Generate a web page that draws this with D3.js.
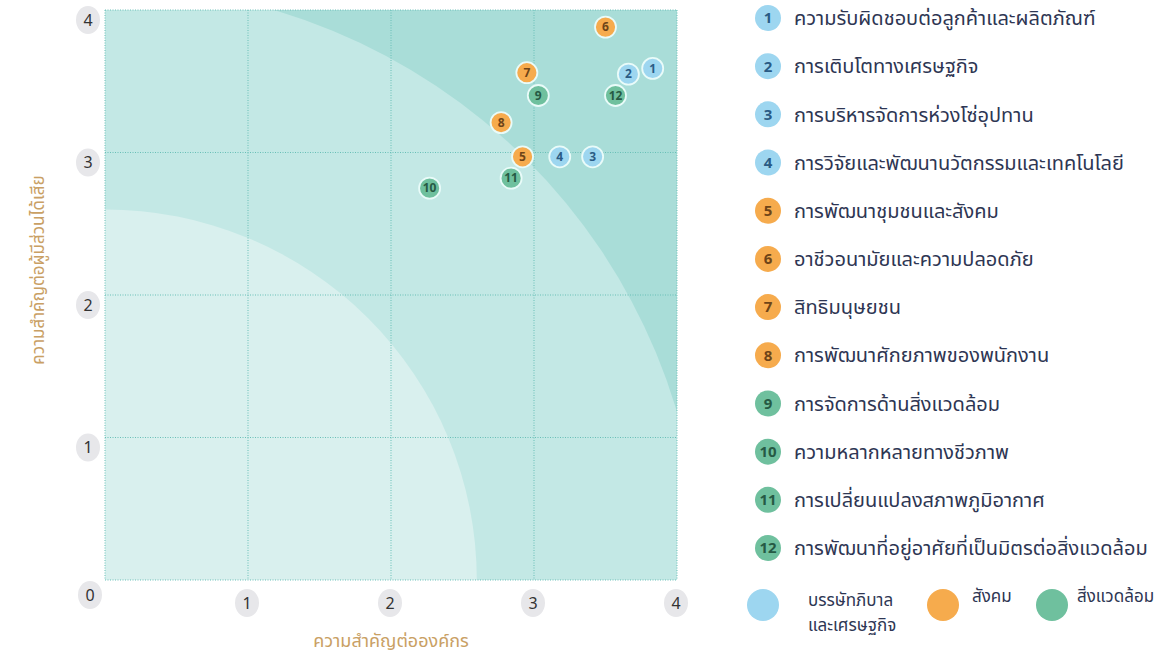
<!DOCTYPE html>
<html>
<head>
<meta charset="utf-8">
<script src="https://cdn.jsdelivr.net/npm/d3@7"></script>
<style>
  html, body { margin: 0; padding: 0; background: #fff; }
  svg { display: block; font-family: "Noto Sans Thai", "Noto Sans", "DejaVu Sans", sans-serif; }
</style>
</head>
<body>
<svg id="chart"></svg>
<script>
// topics, numbered 1..12
const topicIds = [1, 2, 3, 4, 5, 6, 7, 8, 9, 10, 11, 12];
const topicNames = [
  'ความรับผิดชอบต่อลูกค้าและผลิตภัณฑ์',
  'การเติบโตทางเศรษฐกิจ',
  'การบริหารจัดการห่วงโซ่อุปทาน',
  'การวิจัยและพัฒนานวัตกรรมและเทคโนโลยี',
  'การพัฒนาชุมชนและสังคม',
  'อาชีวอนามัยและความปลอดภัย',
  'สิทธิมนุษยชน',
  'การพัฒนาศักยภาพของพนักงาน',
  'การจัดการด้านสิ่งแวดล้อม',
  'ความหลากหลายทางชีวภาพ',
  'การเปลี่ยนแปลงสภาพภูมิอากาศ',
  'การพัฒนาที่อยู่อาศัยที่เป็นมิตรต่อสิ่งแวดล้อม'
];
const topicGroup = ['gov', 'gov', 'gov', 'gov', 'soc', 'soc', 'soc', 'soc', 'env', 'env', 'env', 'env'];
// x = importance to organisation, y = importance to stakeholders
const orgImportance         = [3.83, 3.66, 3.41, 3.18, 2.92, 3.50, 2.95, 2.77, 3.03, 2.27, 2.84, 3.57];
const stakeholderImportance = [3.59, 3.55, 2.97, 2.97, 2.97, 3.88, 3.56, 3.21, 3.40, 2.75, 2.82, 3.40];

const groupKeys   = ['gov', 'soc', 'env'];
const groupLabels = [['บรรษัทภิบาล', 'และเศรษฐกิจ'], ['สังคม'], ['สิ่งแวดล้อม']];

const axisTicks = [0, 1, 2, 3, 4];
const xTitle = 'ความสำคัญต่อองค์กร';
const yTitle = 'ความสำคัญต่อผู้มีส่วนได้เสีย';

// background bands (radius from origin, data units)
const bandRadii = [4.17, 2.6];

const fillColor = { gov: '#9dd6f0', soc: '#f6ab4d', env: '#6fc09e' };
const textColor = { gov: '#2a5b85', soc: '#6e4418', env: '#265a44' };

const W = 1168, H = 662;
const svg = d3.select('#chart').attr('width', W).attr('height', H);

const x = d3.scaleLinear().domain([0, 4]).range([105, 677]);
const y = d3.scaleLinear().domain([0, 4]).range([580, 10]);

const defs = svg.append('defs');
defs.append('clipPath').attr('id', 'plot-clip')
  .append('rect')
    .attr('x', x(0)).attr('y', y(4))
    .attr('width', x(4) - x(0)).attr('height', y(0) - y(4));

const plot = svg.append('g').attr('clip-path', 'url(#plot-clip)');

plot.append('rect')
  .attr('x', x(0)).attr('y', y(4))
  .attr('width', x(4) - x(0)).attr('height', y(0) - y(4))
  .attr('fill', '#a9ddd8');

plot.selectAll('ellipse.band')
  .data(bandRadii)
  .join('ellipse')
    .attr('class', 'band')
    .attr('cx', x(0)).attr('cy', y(0))
    .attr('rx', d => x(d) - x(0))
    .attr('ry', d => y(0) - y(d))
    .attr('fill', (d, i) => i === 0 ? '#c3e8e5' : '#d9f0ee');

// dotted grid
const grid = svg.append('g')
  .attr('stroke', '#68bfb7')
  .attr('stroke-width', 1)
  .attr('stroke-dasharray', '1,1.5')
  .attr('fill', 'none');

grid.selectAll('line.v')
  .data(axisTicks)
  .join('line')
    .attr('class', 'v')
    .attr('x1', d => x(d)).attr('x2', d => x(d))
    .attr('y1', y(4)).attr('y2', y(0));

grid.selectAll('line.h')
  .data(axisTicks)
  .join('line')
    .attr('class', 'h')
    .attr('y1', d => y(d)).attr('y2', d => y(d))
    .attr('x1', x(0)).attr('x2', x(4));

// tick badges
function badge(g, cx, cy, txt) {
  g.append('ellipse')
    .attr('cx', cx).attr('cy', cy)
    .attr('rx', 12).attr('ry', 14)
    .attr('fill', '#e7e7ea');
  g.append('text')
    .attr('x', cx).attr('y', cy)
    .attr('dy', '0.36em')
    .attr('text-anchor', 'middle')
    .attr('font-size', 16)
    .attr('fill', '#333')
    .text(txt);
}

const ticksG = svg.append('g');
axisTicks.forEach(t => {
  if (t === 0) {
    badge(ticksG, x(0) - 15, y(0) + 15, t);
  } else {
    badge(ticksG, x(t) - 1, y(0) + 23, t);
    badge(ticksG, x(0) - 17, y(t) + 10, t);
  }
});

// axis titles
svg.append('text')
  .attr('x', x(2)).attr('y', 647)
  .attr('text-anchor', 'middle')
  .attr('font-size', 18)
  .attr('fill', '#c9a064')
  .text(xTitle);

svg.append('text')
  .attr('transform', `translate(38, 270) rotate(-90)`)
  .attr('text-anchor', 'middle')
  .attr('dy', '0.35em')
  .attr('font-size', 17)
  .attr('fill', '#c9a064')
  .text(yTitle);

// points
const points = topicIds.map((id, i) => ({
  id, group: topicGroup[i], xv: orgImportance[i], yv: stakeholderImportance[i]
}));

const pts = svg.append('g').selectAll('g')
  .data(points)
  .join('g')
    .attr('transform', d => `translate(${x(d.xv)},${y(d.yv)})`);

pts.append('circle')
  .attr('r', 10.5)
  .attr('fill', d => fillColor[d.group])
  .attr('stroke', '#e9fbf9')
  .attr('stroke-width', 1.8);

pts.append('text')
  .attr('text-anchor', 'middle')
  .attr('dy', '0.36em')
  .attr('font-size', 12)
  .attr('font-weight', 'bold')
  .attr('fill', d => textColor[d.group])
  .text(d => d.id);

// numbered legend
const legendRow = d3.scaleLinear().domain([1, 12]).range([18, 548]);

const legend = svg.append('g').selectAll('g')
  .data(points)
  .join('g')
    .attr('transform', d => `translate(768,${legendRow(d.id)})`);

legend.append('circle')
  .attr('r', 13)
  .attr('fill', d => fillColor[d.group]);

legend.append('text')
  .attr('text-anchor', 'middle')
  .attr('dy', '0.36em')
  .attr('font-size', 15)
  .attr('font-weight', 'bold')
  .attr('fill', d => textColor[d.group])
  .text(d => d.id);

legend.append('text')
  .attr('x', 26)
  .attr('dy', '0.36em')
  .attr('font-size', 20)
  .attr('fill', '#2e3653')
  .text((d, i) => topicNames[i]);

// group legend
const groupX = [763, 943, 1052];
const groupTextDx = [45, 29, 25];
const groupG = svg.append('g').selectAll('g')
  .data(groupKeys)
  .join('g')
    .attr('transform', (d, i) => `translate(${groupX[i]},605)`);

groupG.append('circle')
  .attr('r', 16)
  .attr('fill', d => fillColor[d]);

// one text element per line, so the two-line label keeps its own boxes
groupG.each(function(d, i) {
  d3.select(this).selectAll('text')
    .data(groupLabels[i])
    .join('text')
      .attr('x', groupTextDx[i])
      .attr('y', (t, j) => (i === 0 ? 1 : -3) + j * 25)
      .attr('font-size', 17)
      .attr('fill', '#2e3653')
      .text(t => t);
});
</script>
</body>
</html>
